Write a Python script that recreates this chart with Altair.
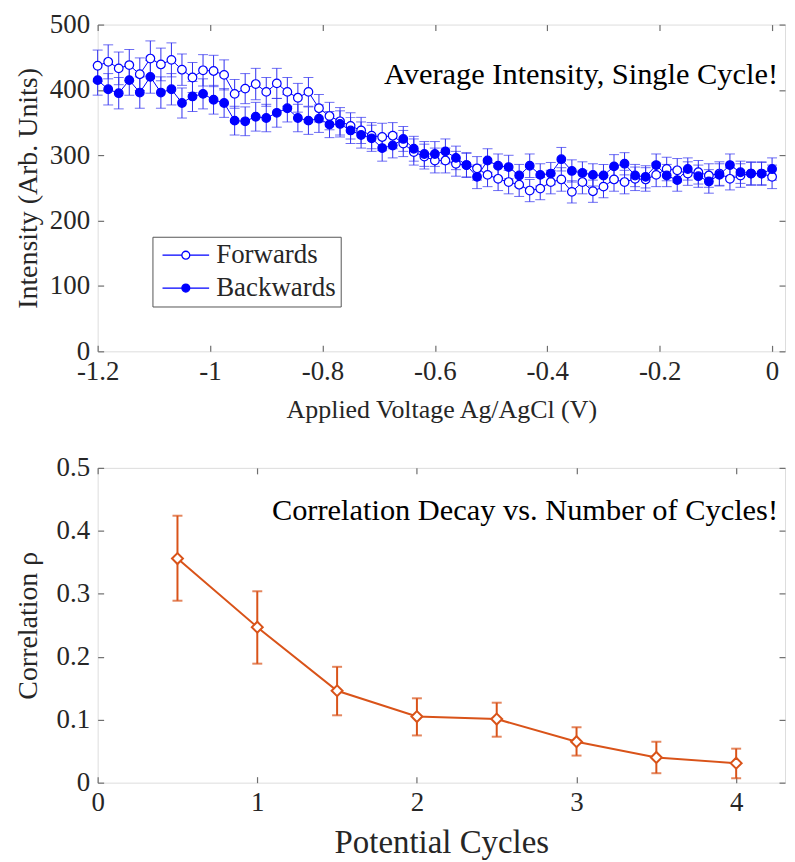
import altair as alt
import pandas as pd

# ---------------- data: top panel ----------------
voltage = [round(-1.2 + 0.01875 * i, 5) for i in range(65)]

forwards = [437, 443, 433, 438, 424, 448, 439, 446, 431, 419, 430,
            429, 423, 394, 402, 409, 397, 410, 397, 388, 397, 372,
            360, 352, 345, 338, 330, 328, 330, 318, 305, 298, 292,
            292, 287, 285, 280, 270, 264, 259, 255, 246, 249,
            259, 263, 244, 259, 245, 252, 263, 259, 264, 263, 270,
            279, 277, 272, 274, 269, 272, 264, 269, 272, 272, 267]

backwards = [415, 401, 395, 415, 396, 420, 396, 401, 380, 390, 394,
             385, 380, 353, 352, 359, 357, 365, 372, 357, 353, 356,
             347, 348, 338, 331, 326, 311, 315, 325, 310, 302, 302,
             306, 296, 285, 267, 292, 284, 282, 269, 284, 270,
             272, 294, 276, 273, 270, 269, 283, 287, 269, 267, 285,
             269, 262, 279, 268, 260, 270, 285, 274, 272, 272, 279]

forwards_err = [24, 26, 25, 24, 25, 27, 25, 26, 24, 23, 24, 24, 23,
                22, 23, 24, 22, 23, 22, 22, 22, 21, 21, 21, 20, 20,
                20, 21, 20, 20, 20, 19, 19, 19, 19, 19, 18, 18, 18,
                18, 18, 17, 17, 18, 18, 17, 18, 17, 17, 18, 18, 18,
                18, 18, 18, 18, 18, 18, 18, 18, 17, 18, 18, 18, 18]

backwards_err = [23, 24, 24, 23, 24, 25, 24, 24, 23, 23, 23, 22, 22,
                 22, 22, 22, 21, 22, 21, 21, 21, 21, 20, 20, 20, 20,
                 20, 20, 19, 19, 19, 19, 19, 19, 18, 18, 18, 18, 18,
                 18, 17, 18, 17, 17, 18, 17, 17, 17, 17, 18, 17, 17,
                 17, 17, 17, 17, 17, 17, 18, 17, 17, 17, 17, 17, 17]

series_names = ["Forwards", "Backwards"]

# ---------------- data: bottom panel ----------------
cycles = [0.5, 1.0, 1.5, 2.0, 2.5, 3.0, 3.5, 4.0]
rho = [0.356, 0.247, 0.146, 0.105, 0.101, 0.065, 0.040, 0.031]
rho_low = [0.289, 0.189, 0.107, 0.075, 0.073, 0.043, 0.015, 0.007]
rho_high = [0.424, 0.304, 0.184, 0.134, 0.127, 0.088, 0.065, 0.054]

top_ticks_x = [-1.2, -1.0, -0.8, -0.6, -0.4, -0.2, 0.0]
top_ticks_y = [0, 100, 200, 300, 400, 500]
bot_ticks_x = [0, 1, 2, 3, 4]
bot_ticks_y = [0, 0.1, 0.2, 0.3, 0.4, 0.5]

# ---------------- styling ----------------
BLUE = "#0000FF"
EBLUE = "#3030F0"
ORANGE = "#D95319"
FONT = "Liberation Serif"
TXT = "#262626"
FRAME = "#6e6e6e"
TICK_FS = 27
W = 690
H_TOP = 328
H_BOT = 316
LABEL_EXPR = "datum.value < 0 ? '-' + format(-datum.value, '~g') : format(datum.value, '~g')"

top_df = pd.DataFrame({
    "v": voltage + voltage,
    "I": forwards + backwards,
    "lo": [a - e for a, e in zip(forwards, forwards_err)] + [a - e for a, e in zip(backwards, backwards_err)],
    "hi": [a + e for a, e in zip(forwards, forwards_err)] + [a + e for a, e in zip(backwards, backwards_err)],
    "series": [series_names[0]] * len(voltage) + [series_names[1]] * len(voltage),
})
bot_df = pd.DataFrame({"c": cycles, "r": rho, "lo": rho_low, "hi": rho_high})


def main_x_axis(values, title, title_fs, title_pad):
    return alt.Axis(values=values, orient="bottom", offset=-6, tickSize=6, domain=False, grid=False,
                    tickColor=FRAME, tickWidth=1.2, labelExpr=LABEL_EXPR, labelFont=FONT,
                    labelFontSize=TICK_FS, labelColor=TXT, labelPadding=7, labelFlush=False,
                    title=title, titleFont=FONT, titleFontSize=title_fs, titleFontWeight="normal",
                    titleColor=TXT, titlePadding=title_pad)


def main_y_axis(values, title):
    return alt.Axis(values=values, orient="left", offset=-6, tickSize=6, domain=False, grid=False,
                    tickColor=FRAME, tickWidth=1.2, labelExpr=LABEL_EXPR, labelFont=FONT,
                    labelFontSize=TICK_FS, labelColor=TXT, labelPadding=8, labelFlush=False,
                    minExtent=58, maxExtent=58,
                    title=title, titleFont=FONT, titleFontSize=28, titleFontWeight="normal",
                    titleColor=TXT, titlePadding=3)


def mirror_axis(values, orient):
    return alt.Axis(values=values, orient=orient, offset=-6, tickSize=6, domain=False, grid=False,
                    tickColor=FRAME, tickWidth=1.2, labels=False, title=None,
                    minExtent=0, maxExtent=0)


# ---------------- top panel ----------------
xs_top = alt.Scale(domain=[-1.2, 0.023], nice=False, zero=False)
ys_top = alt.Scale(domain=[0, 500], nice=False)

base_top = alt.Chart(top_df)

top_line = base_top.mark_line(color=BLUE, strokeWidth=1).encode(
    x=alt.X("v:Q", scale=xs_top, axis=main_x_axis(top_ticks_x, "Applied Voltage Ag/AgCl (V)", 26, 12)),
    y=alt.Y("I:Q", scale=ys_top, axis=main_y_axis(top_ticks_y, "Intensity (Arb. Units)")),
    detail="series:N",
)

top_rule = base_top.mark_rule(color=EBLUE, strokeWidth=1).encode(
    x=alt.X("v:Q", scale=xs_top, axis=None),
    y=alt.Y("lo:Q", scale=ys_top, axis=None),
    y2="hi:Q",
)

top_caps = base_top.transform_fold(["lo", "hi"], as_=["k", "e"]).mark_tick(
    color=EBLUE, orient="horizontal", size=10, thickness=1
).encode(
    x=alt.X("v:Q", scale=xs_top, axis=None),
    y=alt.Y("e:Q", scale=ys_top, axis=None),
)

legend_symbol = ("M-1.95,0L-0.33,0M0.33,0L1.95,0"
                 "M0.33,0A0.33,0.33,0,1,1,-0.33,0A0.33,0.33,0,1,1,0.33,0Z")

top_points = base_top.mark_point(filled=True, stroke=BLUE, strokeWidth=1.2, size=75, opacity=1).encode(
    x=alt.X("v:Q", scale=xs_top, axis=mirror_axis(top_ticks_x, "top")),
    y=alt.Y("I:Q", scale=ys_top, axis=mirror_axis(top_ticks_y, "right")),
    fill=alt.Fill("series:N", scale=alt.Scale(domain=series_names, range=["white", BLUE]),
                  legend=alt.Legend(title=None, orient="none", legendX=55, legendY=213,
                                    direction="vertical",
                                    strokeColor="#555555", fillColor="white", padding=5,
                                    symbolType=legend_symbol, symbolSize=576,
                                    symbolOffset=15,
                                    symbolStrokeColor=BLUE, symbolStrokeWidth=1.3,
                                    labelFont=FONT, labelFontSize=27, labelColor=TXT,
                                    labelOffset=17, rowPadding=5, labelLimit=300)),
)

top_text = alt.Chart(pd.DataFrame({"t": ["Average Intensity, Single Cycle!"]})).mark_text(
    align="right", baseline="middle", font=FONT, fontSize=30.5, color="black"
).encode(x=alt.value(W - 7), y=alt.value(51), text="t:N")

top = alt.layer(top_line, top_rule, top_caps, top_points, top_text).resolve_axis(
    x="independent", y="independent"
).properties(width=W, height=H_TOP)

# ---------------- bottom panel ----------------
xs_bot = alt.Scale(domain=[0, 4.306], nice=False, zero=False)
ys_bot = alt.Scale(domain=[0, 0.5], nice=False)

base_bot = alt.Chart(bot_df)

bot_line = base_bot.mark_line(color=ORANGE, strokeWidth=2).encode(
    x=alt.X("c:Q", scale=xs_bot, axis=main_x_axis(bot_ticks_x, "Potential Cycles", 33, 11)),
    y=alt.Y("r:Q", scale=ys_bot, axis=main_y_axis(bot_ticks_y, "Correlation ρ")),
)

bot_rule = base_bot.mark_rule(color=ORANGE, strokeWidth=2).encode(
    x=alt.X("c:Q", scale=xs_bot, axis=None),
    y=alt.Y("lo:Q", scale=ys_bot, axis=None),
    y2="hi:Q",
)

bot_caps = base_bot.transform_fold(["lo", "hi"], as_=["k", "e"]).mark_tick(
    color=ORANGE, orient="horizontal", size=10, thickness=2
).encode(
    x=alt.X("c:Q", scale=xs_bot, axis=None),
    y=alt.Y("e:Q", scale=ys_bot, axis=None),
)

bot_points = base_bot.mark_point(shape="diamond", filled=True, fill="white", stroke=ORANGE,
                                 strokeWidth=2, size=120, opacity=1).encode(
    x=alt.X("c:Q", scale=xs_bot, axis=mirror_axis(bot_ticks_x, "top")),
    y=alt.Y("r:Q", scale=ys_bot, axis=mirror_axis(bot_ticks_y, "right")),
)

bot_text = alt.Chart(pd.DataFrame({"t": ["Correlation Decay vs. Number of Cycles!"]})).mark_text(
    align="right", baseline="middle", font=FONT, fontSize=30.5, color="black"
).encode(x=alt.value(W - 7), y=alt.value(43), text="t:N")

bottom = alt.layer(bot_line, bot_rule, bot_caps, bot_points, bot_text).resolve_axis(
    x="independent", y="independent"
).properties(width=W, height=H_BOT)

chart = alt.vconcat(top, bottom, spacing=30).properties(
    padding={"left": 6, "top": 0, "right": 0, "bottom": 0}
).configure_view(stroke=FRAME, strokeWidth=1.6).configure(background="white")

chart.save("out.html", embed_options={"renderer": "svg", "actions": False})
